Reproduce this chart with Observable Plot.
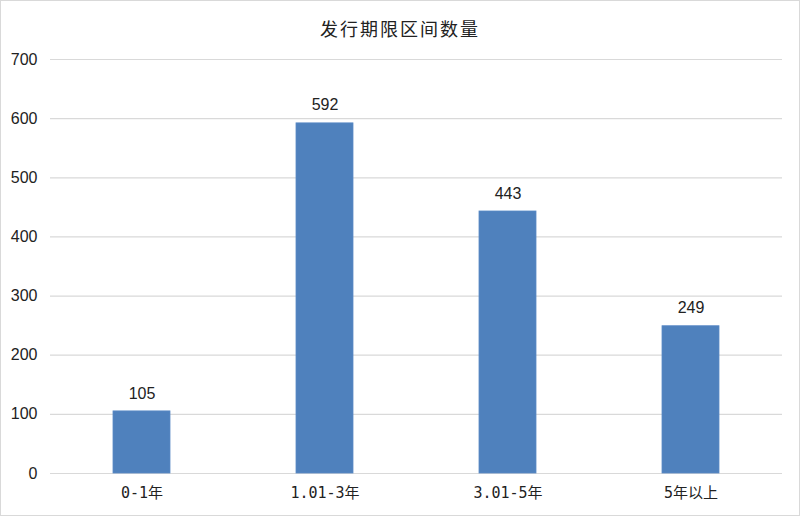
<!DOCTYPE html>
<html>
<head>
<meta charset="utf-8">
<script src="https://cdn.jsdelivr.net/npm/d3@7"></script>
<script src="https://cdn.jsdelivr.net/npm/@observablehq/plot@0.6"></script>
<style>
  html, body { margin: 0; padding: 0; background: #fff; }
  #wrap { width: 800px; height: 516px; box-sizing: border-box; border: 1px solid #d9d9d9; position: relative; overflow: hidden; }
  #title { height: 47px; line-height: 54px; text-align: center; font-family: "Noto Sans CJK SC", sans-serif; font-size: 18px; color: #222; letter-spacing: 2px; }
  #chart svg { display: block; }
</style>
</head>
<body>
<div id="wrap">
  <div id="title">发行期限区间数量</div>
  <div id="chart"></div>
</div>
<script>
const categories = ["0-1年", "1.01-3年", "3.01-5年", "5年以上"];
const counts = [105, 592, 443, 249];
const yTicks = [0, 100, 200, 300, 400, 500, 600, 700];

const data = categories.map((c, i) => ({category: c, count: counts[i]}));

const plot = Plot.plot({
  width: 798,
  height: 467,
  marginTop: 11,
  marginBottom: 42,
  marginLeft: 49,
  marginRight: 17,
  style: { fontFamily: "'Liberation Sans', Arial, sans-serif", fontSize: "15px", color: "#222", background: "#fff" },
  x: { domain: categories, paddingInner: 0.69, paddingOuter: 0.345, align: 0.5, label: null },
  y: { domain: [0, 700], ticks: yTicks, label: null },
  marks: [
    Plot.gridY(yTicks, { stroke: "#d9d9d9", strokeOpacity: 1, strokeWidth: 1.2 }),
    Plot.barY(data, { x: "category", y: "count", fill: "#4f81bd", stroke: "#5a8ac6", strokeWidth: 0.8 }),
    Plot.text(data, { x: "category", y: "count", text: d => String(d.count), dy: -18, fontSize: 16, fill: "#222" }),
    Plot.axisY(yTicks, { tickSize: 0, tickPadding: 13, fontSize: 16, fill: "#222", label: null, fontFamily: "'Liberation Sans Narrow', 'Liberation Sans', sans-serif" }),
    Plot.axisX({ tickSize: 0, tickPadding: 14, fontSize: 15, fill: "#222", label: null, fontFamily: "'DejaVu Sans Mono', 'Noto Sans CJK SC', monospace" })
  ]
});
document.getElementById("chart").appendChild(plot);
</script>
</body>
</html>
